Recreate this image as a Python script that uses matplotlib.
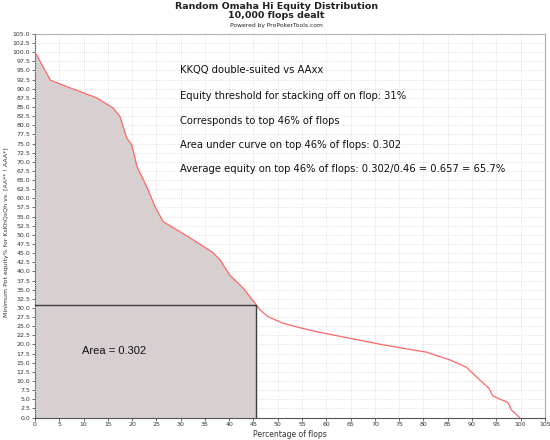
import numpy as np
import matplotlib.pyplot as plt

# equity curve
pct_flops = [0, 1.4, 3.2, 6.5, 12.7, 16.1, 17.5, 18.9, 19.9, 21.0, 23.0, 24.7, 26.4,
             29.8, 32.6, 36.4, 38.1, 40.1, 42.9, 45.6, 46.3, 48.0, 51.1, 54.5, 58.0,
             64.8, 71.7, 76.5, 80.6, 85.4, 88.8, 91.6, 93.5, 94.3, 97.4, 98.1, 99.8]
equity = [100, 96.6, 92.3, 90.6, 87.5, 84.7, 82.4, 76.5, 74.7, 68.7, 63.2, 57.8, 53.6,
          50.9, 48.6, 45.4, 43.2, 39.0, 35.4, 30.8, 29.5, 27.6, 25.8, 24.6, 23.5,
          21.7, 19.9, 18.8, 17.9, 15.8, 13.8, 10.3, 8.0, 5.9, 4.1, 2.1, 0]

cut_pct = 45.6   # top 46% of flops
area_text = 'Area = 0.302'
notes = [
    'KKQQ double-suited vs AAxx',
    'Equity threshold for stacking off on flop: 31%',
    'Corresponds to top 46% of flops',
    'Area under curve on top 46% of flops: 0.302',
    'Average equity on top 46% of flops: 0.302/0.46 = 0.657 = 65.7%',
]
note_y = [95.2, 88.1, 81.2, 74.6, 68.1]

x = np.array(pct_flops)
y = np.array(equity)
cut_eq = np.interp(cut_pct, x, y)

fig = plt.figure(figsize=(5.5, 4.4), dpi=100)
ax = fig.add_axes([0.0636, 0.051, 0.927, 0.872])

# shaded area up to the cut
fx = np.append(x[x < cut_pct], cut_pct)
fy = np.append(y[x < cut_pct], cut_eq)
ax.fill_between(fx, fy, 0, color='#d8d0d0', lw=0, zorder=1)
ax.plot(x, y, color='#ff6666', lw=0.9, zorder=3)
ax.plot([0, cut_pct, cut_pct], [cut_eq, cut_eq, 0], color='#3c3c3c', lw=1.0, zorder=4)

ax.set_xlim(0, 105)
ax.set_ylim(0, 105)
ax.set_xticks(np.arange(0, 106, 5))
ax.set_yticks(np.arange(0, 105.1, 2.5))
ax.set_yticklabels(['%.1f' % v for v in np.arange(0, 105.1, 2.5)])
ax.tick_params(labelsize=4.5, length=2, width=0.5, pad=1.5, colors='#333333')
ax.grid(True, color='#d6d6d6', ls=':', lw=0.6, zorder=2)
ax.set_axisbelow(False)
for s in ax.spines.values():
    s.set_color('#a8a8a8')
    s.set_linewidth(0.8)
ax.spines['left'].set_color('#555555')
ax.spines['bottom'].set_color('#555555')

for t, ty in zip(notes, note_y):
    ax.text(29.8, ty, t, fontsize=7.2, va='center', ha='left', color='#111111', zorder=5)
ax.text(9.6, 18.3, area_text, fontsize=8, family='Liberation Sans', va='center',
        ha='left', color='#111111', zorder=5)

ax.set_xlabel('Percentage of flops', fontsize=5.5, labelpad=2, color='#333333')
ax.set_ylabel('Minimum Pot equity% for KsKhQsQh vs. [AA** ! AAA*]', fontsize=4.5,
              color='#333333')
ax.yaxis.set_label_coords(-0.05, 0.484)

fig.text(0.503, 0.986, 'Random Omaha Hi Equity Distribution', ha='center', va='center',
         fontsize=6.8, fontweight='bold', color='#222222')
fig.text(0.503, 0.964, '10,000 flops dealt', ha='center', va='center',
         fontsize=6.8, fontweight='bold', color='#222222')
fig.text(0.503, 0.943, 'Powered by ProPokerTools.com', ha='center', va='center',
         fontsize=4.3, color='#222222')

fig.savefig('out.png', dpi=100)
